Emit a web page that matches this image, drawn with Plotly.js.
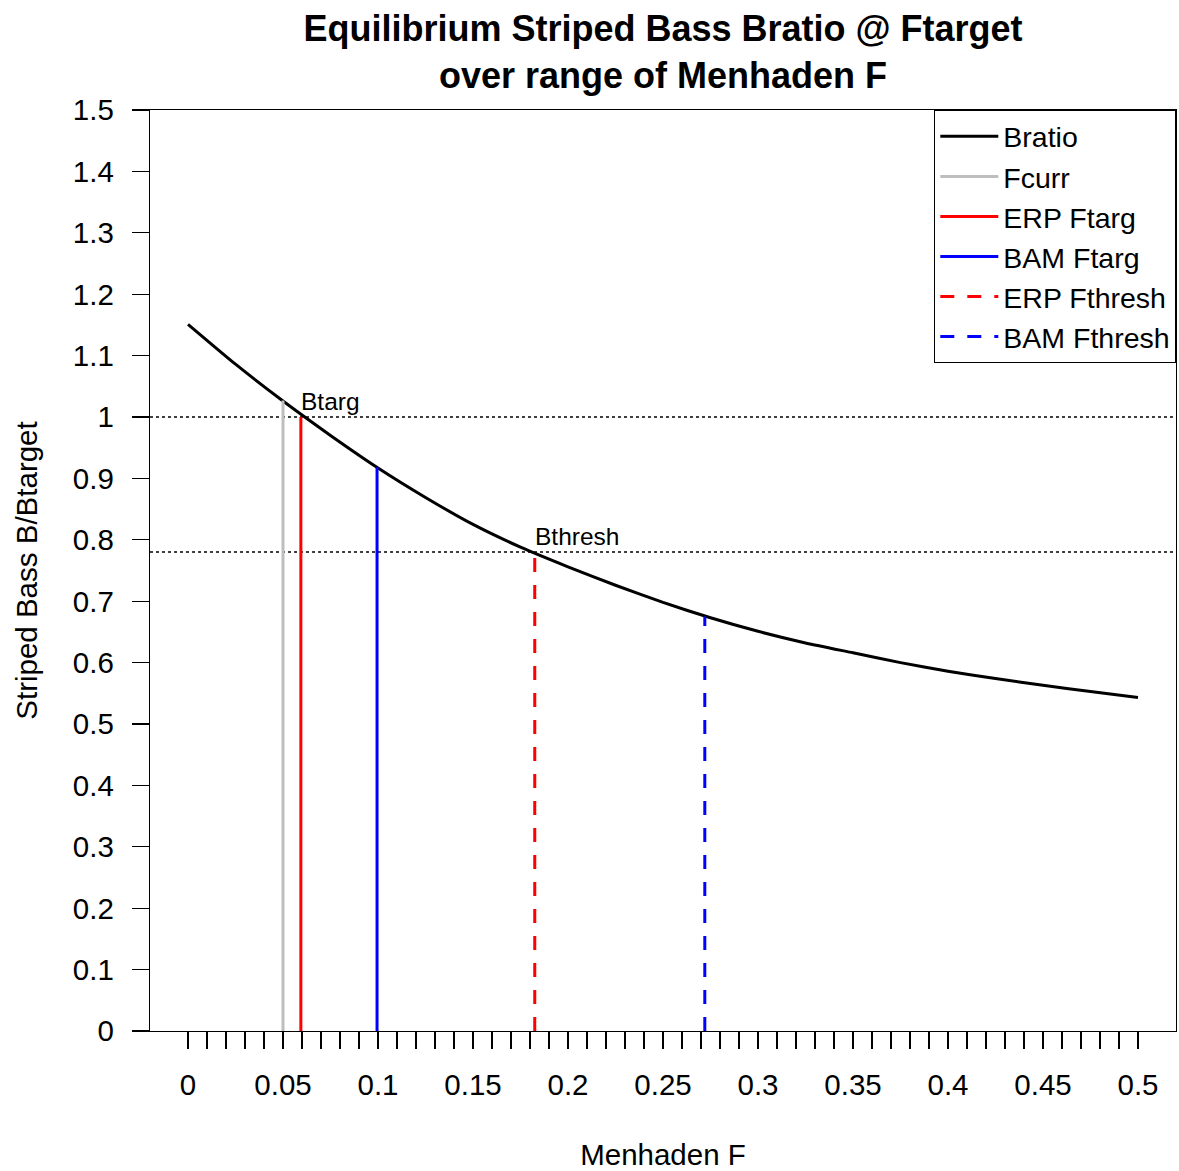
<!DOCTYPE html>
<html>
<head>
<meta charset="utf-8">
<script src="https://cdn.plot.ly/plotly-3.0.1.min.js"></script>
<style>
  html, body { margin: 0; padding: 0; background: #ffffff; }
  #chart { width: 1179px; height: 1171px; }
</style>
</head>
<body>
<div id="chart"></div>
<script>
// ---- Data ----
var menhadenF = [0, 0.025, 0.05, 0.075, 0.1, 0.125, 0.15, 0.175, 0.2, 0.225, 0.25,
                 0.275, 0.3, 0.325, 0.35, 0.375, 0.4, 0.425, 0.45, 0.475, 0.5];
var bratio    = [1.151, 1.086, 1.026, 0.970, 0.917, 0.869, 0.825, 0.788, 0.756, 0.726, 0.698,
                 0.673, 0.651, 0.632, 0.616, 0.600, 0.586, 0.574, 0.563, 0.553, 0.543];

var refNames  = ["Fcurr", "ERP Ftarg", "BAM Ftarg", "ERP Fthresh", "BAM Fthresh"];
var refF      = [0.05, 0.0594, 0.0995, 0.1825, 0.272];
var refB      = [1.027, 1.0, 0.918, 0.78, 0.675];
var refColors = ["#BEBEBE", "#FF0000", "#0000FF", "#FF0000", "#0000FF"];
var refDash   = ["solid", "solid", "solid", "14px,13px", "14px,13px"];

var Btarg = 1.0;
var Bthresh = 0.78;

var xTickVals = [];
var xTickText = [];
for (var i = 0; i <= 50; i++) {
  var v = i / 100;
  xTickVals.push(v);
  xTickText.push(i % 5 === 0 ? String(+v.toFixed(2)) : "");
}
var yTickVals = [];
var yTickText = [];
for (var j = 0; j <= 15; j++) {
  var w = j / 10;
  yTickVals.push(w);
  yTickText.push(String(+w.toFixed(1)));
}

var FONT = "Liberation Sans, Arial, sans-serif";

var traces = [];
traces.push({
  x: menhadenF, y: bratio, type: "scatter", mode: "lines", name: "Bratio",
  line: { color: "#000000", width: 3, shape: "spline", smoothing: 0.5 }
});
for (var k = 0; k < refNames.length; k++) {
  traces.push({
    x: [refF[k], refF[k]], y: [0, refB[k]], type: "scatter", mode: "lines",
    name: refNames[k],
    line: { color: refColors[k], width: 3, dash: refDash[k] }
  });
}

var layout = {
  width: 1179, height: 1171,
  paper_bgcolor: "#ffffff", plot_bgcolor: "#ffffff",
  margin: { l: 150, r: 3, t: 110, b: 140 },
  font: { family: FONT, color: "#000000", size: 29 },
  title: {
    text: "<b>Equilibrium Striped Bass Bratio @ Ftarget<br>over range of Menhaden F</b>",
    font: { family: FONT, size: 36, color: "#000000" },
    x: 0.5, xanchor: "center", xref: "paper",
    y: 0.965, yanchor: "top", yref: "container"
  },
  xaxis: {
    range: [-0.02, 0.52], tickmode: "array", tickvals: xTickVals, ticktext: xTickText,
    ticks: "outside", ticklen: 17, tickwidth: 1.3, tickcolor: "#000000",
    showline: true, mirror: true, linecolor: "#000000", linewidth: 1.3,
    showgrid: false, zeroline: false, ticklabelstandoff: 10,
    tickfont: { family: FONT, size: 29.5, color: "#000000" },
    title: { text: "Menhaden F", font: { family: FONT, size: 29.5, color: "#000000" }, standoff: 48 }
  },
  yaxis: {
    range: [0, 1.5], tickmode: "array", tickvals: yTickVals, ticktext: yTickText,
    ticks: "outside", ticklen: 17, tickwidth: 1.3, tickcolor: "#000000",
    showline: true, mirror: true, linecolor: "#000000", linewidth: 1.3,
    showgrid: false, zeroline: false, ticklabelstandoff: 12,
    tickfont: { family: FONT, size: 29.5, color: "#000000" },
    title: { text: "Striped Bass B/Btarget", font: { family: FONT, size: 29.5, color: "#000000" }, standoff: 26 }
  },
  showlegend: true,
  legend: {
    x: 1, xanchor: "right", y: 1, yanchor: "top",
    bgcolor: "#ffffff", bordercolor: "#000000", borderwidth: 1.3,
    font: { family: FONT, size: 28.5, color: "#000000" },
    itemwidth: 58
  },
  shapes: [
    { type: "line", xref: "paper", x0: 0, x1: 1, yref: "y", y0: Btarg, y1: Btarg,
      line: { color: "#000000", width: 1.5, dash: "3px,3px" }, layer: "below" },
    { type: "line", xref: "paper", x0: 0, x1: 1, yref: "y", y0: Bthresh, y1: Bthresh,
      line: { color: "#000000", width: 1.5, dash: "3px,3px" }, layer: "below" }
  ],
  annotations: [
    { x: refF[1], y: Btarg, xref: "x", yref: "y", text: "Btarg", showarrow: false,
      xanchor: "left", yanchor: "bottom", yshift: 0, xshift: -2,
      font: { family: FONT, size: 24.5, color: "#000000" } },
    { x: refF[3], y: Bthresh, xref: "x", yref: "y", text: "Bthresh", showarrow: false,
      xanchor: "left", yanchor: "bottom", yshift: 0, xshift: -2,
      font: { family: FONT, size: 24.5, color: "#000000" } }
  ]
};

Plotly.newPlot("chart", traces, layout, { displayModeBar: false, staticPlot: true });
</script>
</body>
</html>
